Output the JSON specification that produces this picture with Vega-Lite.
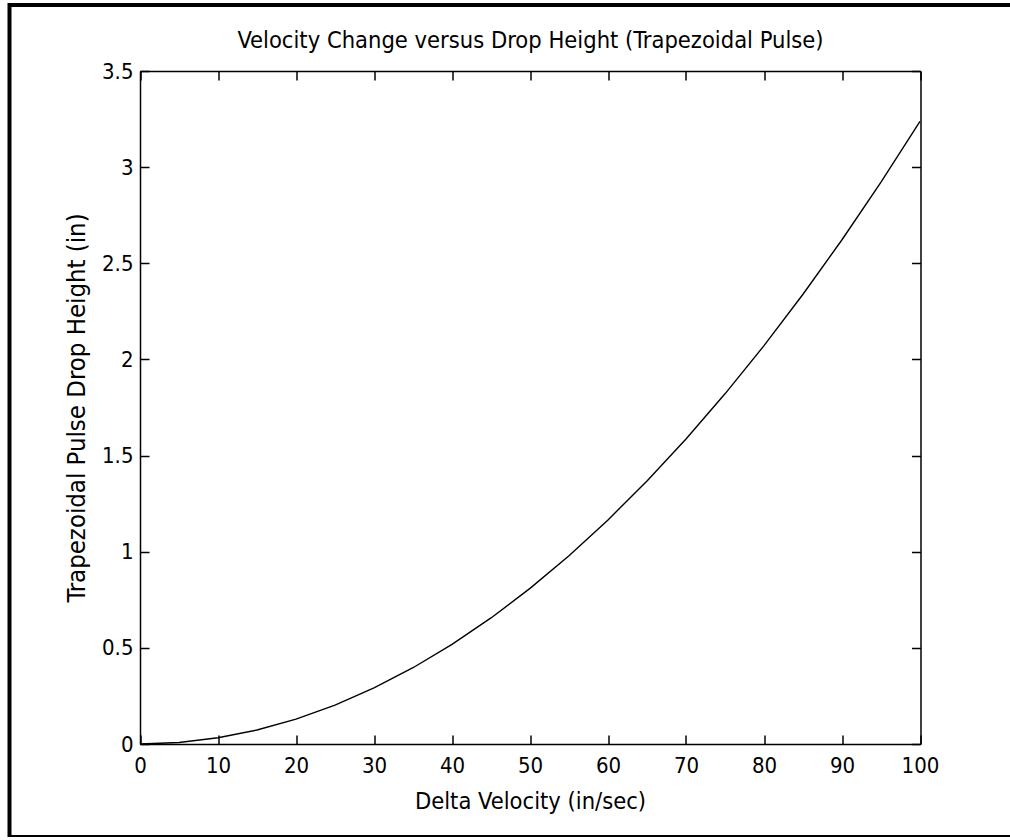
{
  "$schema": "https://vega.github.io/schema/vega-lite/v6.json",
  "autosize": "none",
  "padding": {"left": 9.5, "top": 5, "right": -10, "bottom": 0},
  "width": 1010.5,
  "height": 832,
  "background": "white",
  "config": {
    "view": {"stroke": "black", "strokeWidth": 4},
    "font": "'DejaVu Sans Condensed', 'Liberation Sans', sans-serif",
    "axis": {
      "domainColor": "black",
      "domainWidth": 1.5,
      "tickColor": "black",
      "tickWidth": 1.5,
      "tickSize": -9,
      "grid": false,
      "labelFont": "'DejaVu Sans Condensed', 'Liberation Sans', sans-serif",
      "labelFontSize": 22,
      "labelColor": "black",
      "labelFlush": false,
      "labelOverlap": false,
      "titleFont": "'DejaVu Sans Condensed', 'Liberation Sans', sans-serif",
      "titleFontSize": 23.5,
      "titleFontWeight": "normal",
      "titleColor": "black"
    }
  },
  "data": {
    "values": [
      {"v": 0, "h": 0},
      {"v": 5, "h": 0.0081},
      {"v": 10, "h": 0.0324},
      {"v": 15, "h": 0.0728},
      {"v": 20, "h": 0.1295},
      {"v": 25, "h": 0.2023},
      {"v": 30, "h": 0.2914},
      {"v": 35, "h": 0.3966},
      {"v": 40, "h": 0.518},
      {"v": 45, "h": 0.6556},
      {"v": 50, "h": 0.8094},
      {"v": 55, "h": 0.9793},
      {"v": 60, "h": 1.1655},
      {"v": 65, "h": 1.3679},
      {"v": 70, "h": 1.5864},
      {"v": 75, "h": 1.8211},
      {"v": 80, "h": 2.072},
      {"v": 85, "h": 2.3391},
      {"v": 90, "h": 2.6224},
      {"v": 95, "h": 2.9218},
      {"v": 100, "h": 3.2375}
    ]
  },
  "layer": [
    {
      "mark": {"type": "line", "color": "black", "strokeWidth": 1.4},
      "encoding": {
        "x": {
          "field": "v", "type": "quantitative",
          "scale": {"domain": [0, 100], "range": [130.5, 910.5], "nice": false, "zero": false},
          "axis": {
            "orient": "bottom", "offset": -93,
            "values": [0, 10, 20, 30, 40, 50, 60, 70, 80, 90, 100],
            "labelPadding": 20,
            "title": "Delta Velocity (in/sec)",
            "titlePadding": 13
          }
        },
        "y": {
          "field": "h", "type": "quantitative",
          "scale": {"domain": [0, 3.5], "range": [739, 66], "nice": false, "zero": false},
          "axis": {
            "orient": "left", "offset": -130.5,
            "values": [0, 0.5, 1, 1.5, 2, 2.5, 3, 3.5],
            "format": "~g",
            "labelPadding": 16,
            "title": "Trapezoidal Pulse Drop Height (in)",
            "titleFontSize": 25.5,
            "titlePadding": 12
          }
        }
      }
    },
    {
      "mark": {"type": "line", "opacity": 0},
      "encoding": {
        "x": {
          "field": "v", "type": "quantitative",
          "scale": {"domain": [0, 100], "range": [130.5, 910.5], "nice": false, "zero": false},
          "axis": {
            "orient": "top", "offset": -66,
            "values": [0, 10, 20, 30, 40, 50, 60, 70, 80, 90, 100],
            "labels": false,
            "title": "Velocity Change versus Drop Height (Trapezoidal Pulse)",
            "titlePadding": 18
          }
        },
        "y": {
          "field": "h", "type": "quantitative",
          "scale": {"domain": [0, 3.5], "range": [739, 66], "nice": false, "zero": false},
          "axis": {
            "orient": "right", "offset": -99.5,
            "values": [0, 0.5, 1, 1.5, 2, 2.5, 3, 3.5],
            "labels": false,
            "title": null
          }
        }
      }
    }
  ],
  "resolve": {"axis": {"x": "independent", "y": "independent"}}
}
